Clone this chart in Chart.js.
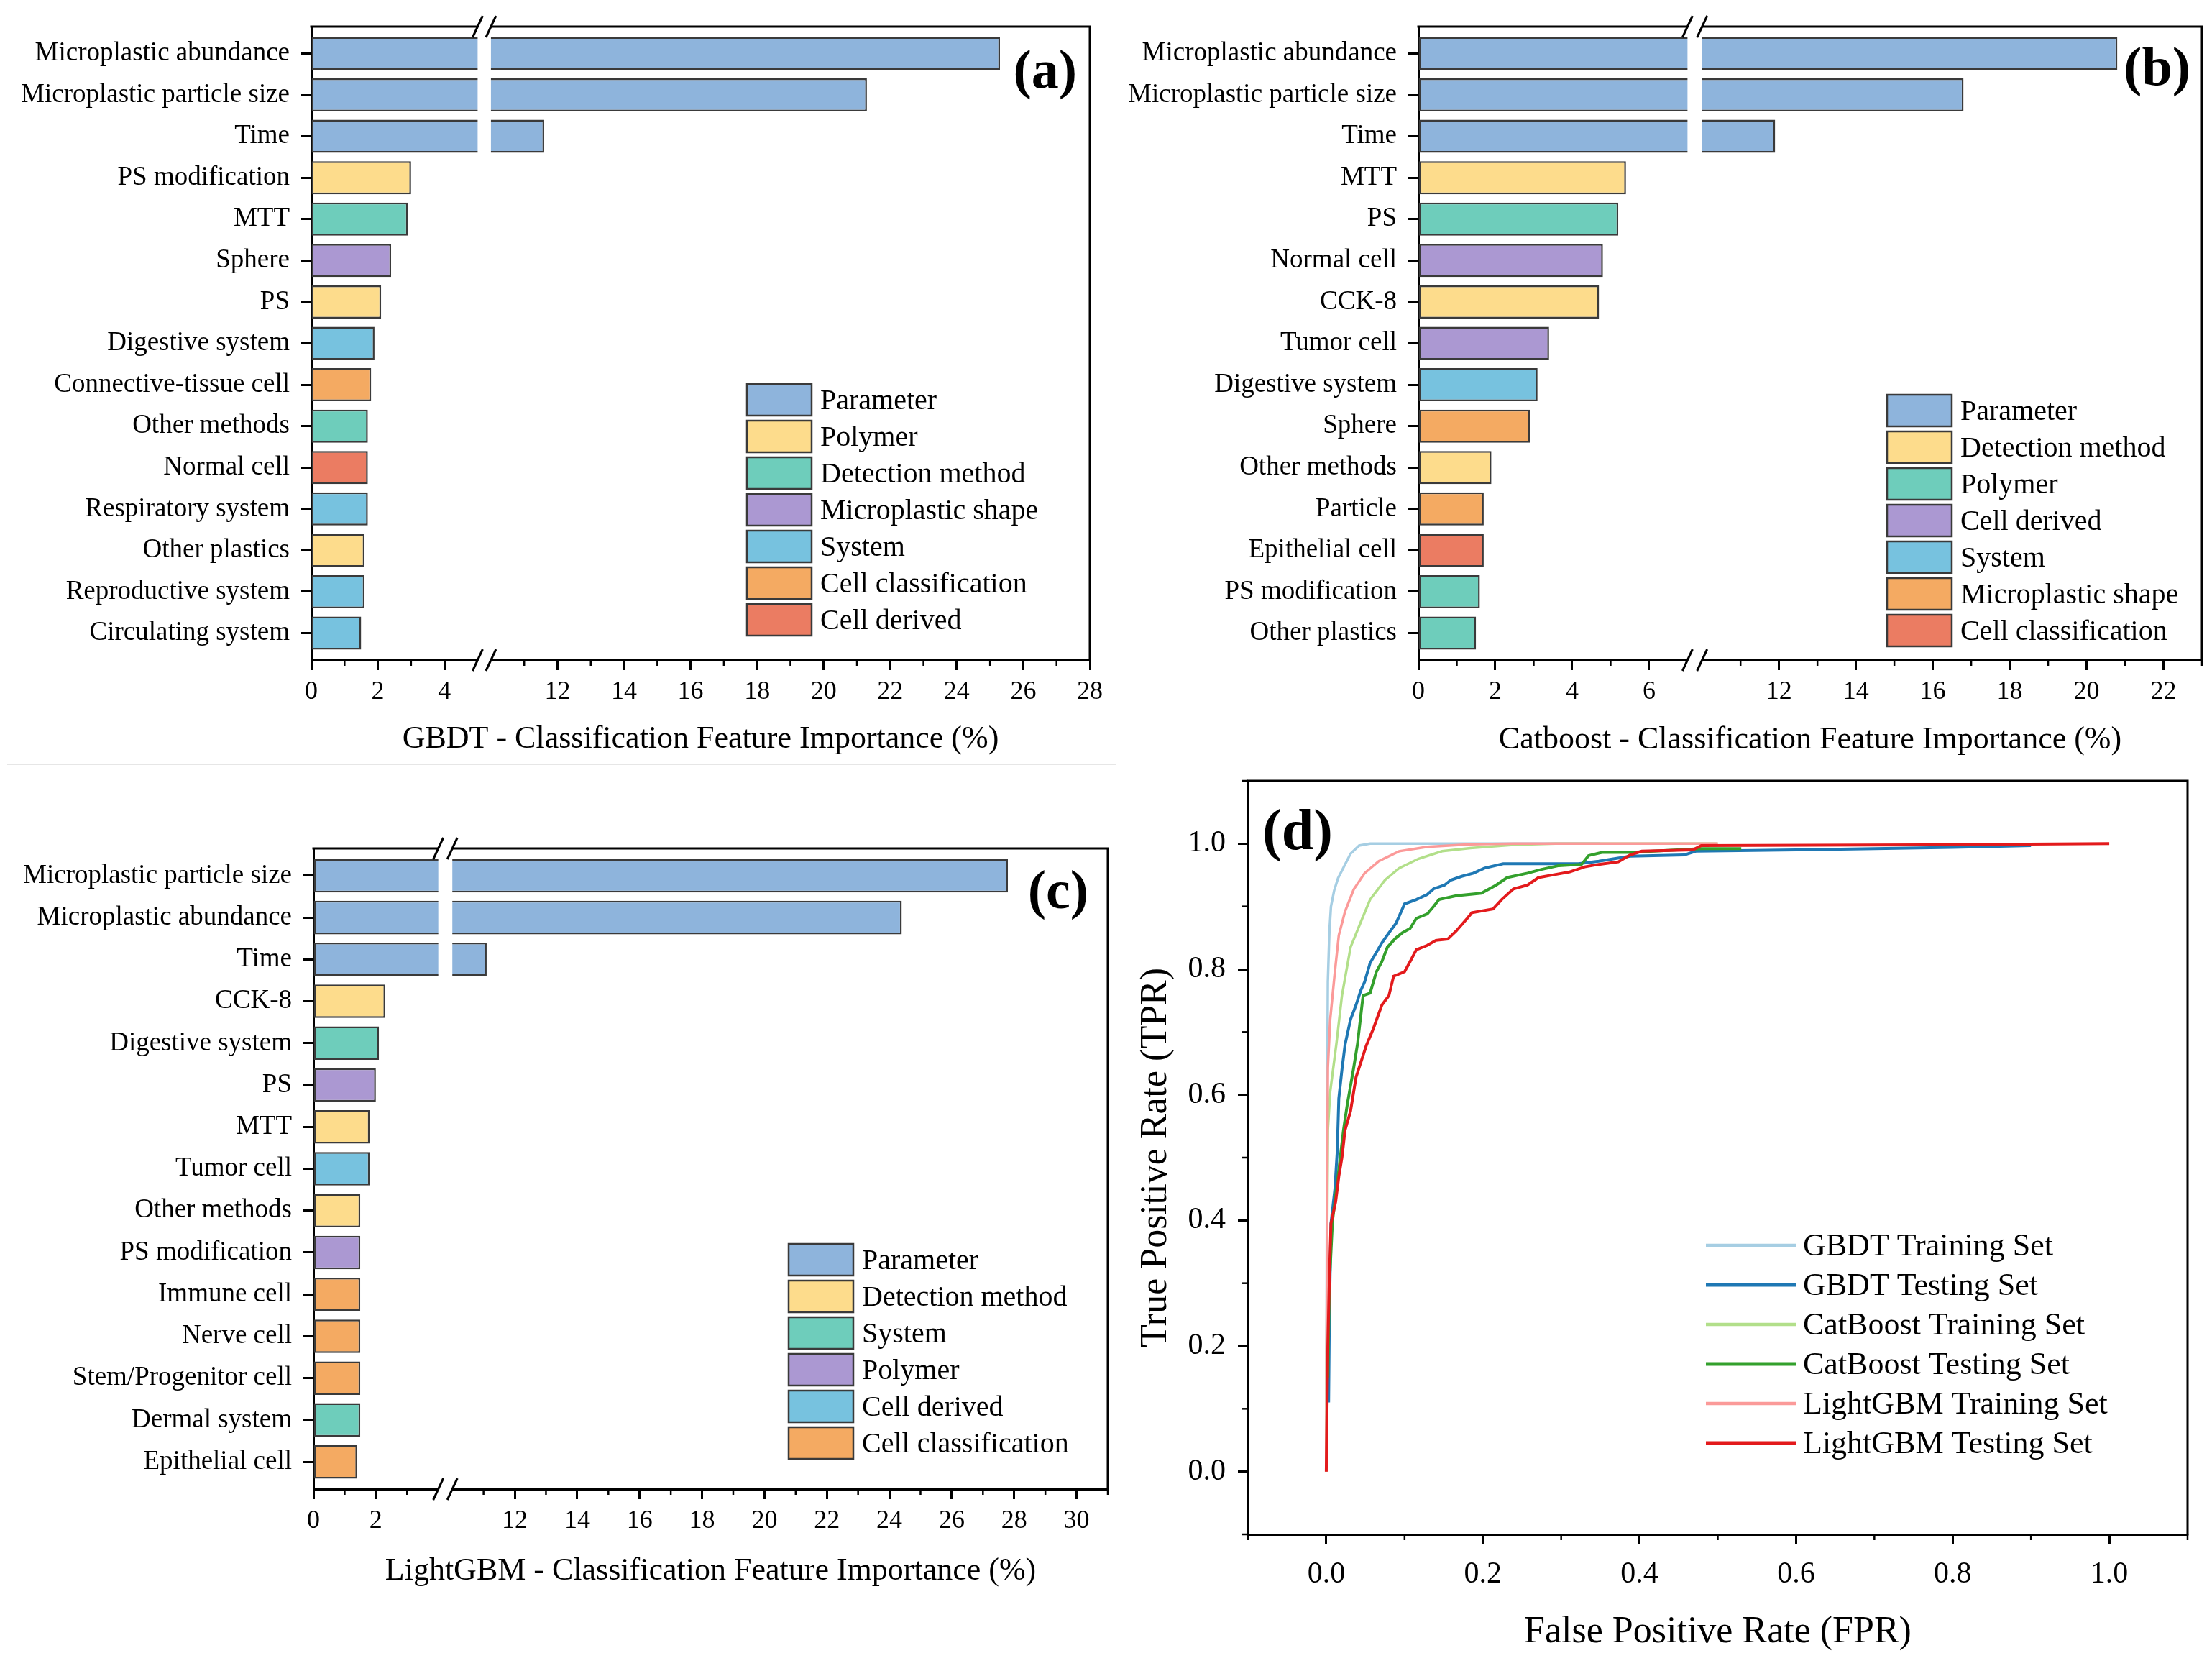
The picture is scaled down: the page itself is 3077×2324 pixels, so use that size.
<!DOCTYPE html>
<html>
<head>
<meta charset="utf-8">
<title>Feature importance and ROC curves</title>
<script src="https://cdn.jsdelivr.net/npm/chart.js@4.4.1/dist/chart.umd.min.js"></script>
<style>
  html, body { margin: 0; padding: 0; background: #fff; }
  #page { position: relative; width: 3077px; height: 2324px; overflow: hidden; background: #fff; }
  #page canvas { position: absolute; }
  #rule { position: absolute; left: 10px; top: 1062px; width: 1543px; height: 2px; background: #e6e6e6; }
</style>
</head>
<body>
<div id="page">
  <div id="rule"></div>
  <canvas id="gbdt" width="1545" height="1070" style="left:0;top:0;width:1545px;height:1070px"></canvas>
  <canvas id="catboost" width="1532" height="1070" style="left:1545px;top:0;width:1532px;height:1070px"></canvas>
  <canvas id="lightgbm" width="1545" height="1254" style="left:0;top:1070px;width:1545px;height:1254px"></canvas>
  <canvas id="roc" width="1532" height="1254" style="left:1545px;top:1070px;width:1532px;height:1254px"></canvas>
</div>
<script>
const FONT = "'Liberation Serif', 'Times New Roman', serif";
Chart.defaults.font.family = FONT;
Chart.defaults.color = '#000';

// fill colours, same order in every legend
const palette = ['#8eb4dc', '#fddc8c', '#6ecdbb', '#ab98d2', '#77c2df', '#f4aa62', '#eb7c62'];

// (a) GBDT
const gbdtFeatures = ['Microplastic abundance', 'Microplastic particle size', 'Time', 'PS modification', 'MTT',
  'Sphere', 'PS', 'Digestive system', 'Connective-tissue cell', 'Other methods', 'Normal cell',
  'Respiratory system', 'Other plastics', 'Reproductive system', 'Circulating system'];
const gbdtImportance = [25.3, 21.3, 11.6, 3.0, 2.9, 2.4, 2.1, 1.9, 1.8, 1.7, 1.7, 1.7, 1.6, 1.6, 1.5];
const gbdtColour = [0, 0, 0, 1, 2, 3, 1, 4, 5, 2, 6, 4, 1, 4, 4];
const gbdtLegend = ['Parameter', 'Polymer', 'Detection method', 'Microplastic shape', 'System',
  'Cell classification', 'Cell derived'];
const gbdtTicks = [0, 2, 4, 12, 14, 16, 18, 20, 22, 24, 26, 28];

// (b) CatBoost
const catFeatures = ['Microplastic abundance', 'Microplastic particle size', 'Time', 'MTT', 'PS', 'Normal cell',
  'CCK-8', 'Tumor cell', 'Digestive system', 'Sphere', 'Other methods', 'Particle', 'Epithelial cell',
  'PS modification', 'Other plastics'];
const catImportance = [20.8, 16.8, 11.9, 5.4, 5.2, 4.8, 4.7, 3.4, 3.1, 2.9, 1.9, 1.7, 1.7, 1.6, 1.5];
const catColour = [0, 0, 0, 1, 2, 3, 1, 3, 4, 5, 1, 5, 6, 2, 2];
const catLegend = ['Parameter', 'Detection method', 'Polymer', 'Cell derived', 'System',
  'Microplastic shape', 'Cell classification'];
const catTicks = [0, 2, 4, 6, 12, 14, 16, 18, 20, 22];

// (c) LightGBM
const lgbFeatures = ['Microplastic particle size', 'Microplastic abundance', 'Time', 'CCK-8', 'Digestive system',
  'PS', 'MTT', 'Tumor cell', 'Other methods', 'PS modification', 'Immune cell', 'Nerve cell',
  'Stem/Progenitor cell', 'Dermal system', 'Epithelial cell'];
const lgbImportance = [27.8, 24.4, 11.1, 2.3, 2.1, 2.0, 1.8, 1.8, 1.5, 1.5, 1.5, 1.5, 1.5, 1.5, 1.4];
const lgbColour = [0, 0, 0, 1, 2, 3, 1, 4, 1, 3, 5, 5, 5, 2, 5];
const lgbLegend = ['Parameter', 'Detection method', 'System', 'Polymer', 'Cell derived', 'Cell classification'];
const lgbTicks = [0, 2, 12, 14, 16, 18, 20, 22, 24, 26, 28, 30];

// (d) ROC curves
const rocTicks = [0, 0.2, 0.4, 0.6, 0.8, 1.0];
const rocMinor = [-0.1, 0.1, 0.3, 0.5, 0.7, 0.9, 1.1];

const gbdtTrainFpr = [0, 0.001, 0.002, 0.004, 0.006, 0.01, 0.015, 0.022, 0.031, 0.042, 0.056, 0.35];
const gbdtTrainTpr = [0, 0.55, 0.78, 0.86, 0.9, 0.925, 0.945, 0.962, 0.984, 0.997, 1.0, 1.0];

const gbdtTestFpr = [0.003, 0.004, 0.006, 0.011, 0.014, 0.016, 0.02, 0.024, 0.031, 0.038,
  0.044, 0.049, 0.056, 0.064, 0.071, 0.08, 0.089, 0.1, 0.115, 0.129,
  0.137, 0.151, 0.159, 0.173, 0.188, 0.202, 0.226, 0.322, 0.348, 0.388,
  0.457, 0.472, 0.6, 0.8, 0.9];
const gbdtTestTpr = [0.11, 0.25, 0.395, 0.45, 0.51, 0.594, 0.64, 0.68, 0.72, 0.743,
  0.766, 0.78, 0.81, 0.827, 0.842, 0.858, 0.873, 0.904, 0.911, 0.919,
  0.928, 0.934, 0.942, 0.948, 0.953, 0.961, 0.968, 0.968, 0.972, 0.98,
  0.982, 0.988, 0.99, 0.994, 0.997];

const catTrainFpr = [0, 0.001, 0.002, 0.005, 0.013, 0.02, 0.031, 0.046, 0.056, 0.075, 0.093, 0.118,
  0.148, 0.184, 0.239, 0.293, 0.5];
const catTrainTpr = [0, 0.35, 0.544, 0.605, 0.682, 0.758, 0.835, 0.881, 0.911, 0.942, 0.961, 0.976,
  0.988, 0.993, 0.998, 1.0, 1.0];

const catTestFpr = [0.002, 0.004, 0.008, 0.015, 0.022, 0.027, 0.035, 0.04, 0.047, 0.056,
  0.064, 0.071, 0.078, 0.089, 0.097, 0.107, 0.115, 0.129, 0.137, 0.144,
  0.166, 0.198, 0.217, 0.231, 0.257, 0.275, 0.297, 0.326, 0.335, 0.352,
  0.388, 0.479, 0.53];
const catTestTpr = [0.15, 0.3, 0.4, 0.47, 0.544, 0.586, 0.643, 0.682, 0.758, 0.762,
  0.796, 0.812, 0.835, 0.85, 0.858, 0.865, 0.881, 0.888, 0.9, 0.911,
  0.917, 0.921, 0.934, 0.946, 0.953, 0.959, 0.965, 0.967, 0.981, 0.986,
  0.986, 0.992, 0.992];

const lgbTrainFpr = [0, 0.001, 0.002, 0.005, 0.011, 0.016, 0.024, 0.035, 0.049, 0.067, 0.093, 0.129,
  0.184, 0.24, 0.5];
const lgbTrainTpr = [0, 0.4, 0.643, 0.72, 0.796, 0.854, 0.892, 0.927, 0.953, 0.972, 0.988, 0.995,
  0.999, 1.0, 1.0];

const lgbTestFpr = [0, 0.002, 0.004, 0.006, 0.012, 0.016, 0.02, 0.024, 0.031, 0.038,
  0.051, 0.06, 0.071, 0.08, 0.086, 0.1, 0.107, 0.115, 0.129, 0.14,
  0.155, 0.166, 0.18, 0.186, 0.213, 0.224, 0.239, 0.257, 0.271, 0.293,
  0.311, 0.33, 0.348, 0.373, 0.388, 0.403, 0.468, 0.479, 0.76, 1.0];
const lgbTestTpr = [0, 0.2, 0.31, 0.395, 0.43, 0.47, 0.5, 0.544, 0.574, 0.628,
  0.678, 0.705, 0.743, 0.758, 0.789, 0.796, 0.812, 0.831, 0.838, 0.846,
  0.848, 0.861, 0.881, 0.89, 0.896, 0.911, 0.928, 0.934, 0.946, 0.951,
  0.955, 0.963, 0.967, 0.971, 0.982, 0.988, 0.99, 0.997, 0.998, 1.0];

// axis with a cut: values above `to` slide left so the cut shows as a small gap
function brokenAxis(from, to, gap) {
  const cut = to - from - gap;
  return v => (v <= from ? v : v - cut);
}

// chart.js adds half a label of room at the ends of vertical axes; the reference has none
function noEndPadding(s) {
  s.paddingTop = 0;
  s.paddingBottom = 0;
}

// frame, minor ticks, axis break, legend and panel letter
const deco = {
  id: 'deco',
  afterDatasetsDraw(chart, args, o) {
    const { ctx, chartArea: a, scales } = chart;
    const xs = scales.x, ys = scales.y;
    ctx.save();
    ctx.strokeStyle = '#000';
    ctx.lineWidth = 3;
    ctx.beginPath();
    ctx.moveTo(a.left - 1.5, a.top);
    ctx.lineTo(a.right, a.top);
    ctx.lineTo(a.right, a.bottom + 1.5);
    ctx.stroke();

    ctx.lineWidth = 2.5;
    (o.minorX || []).forEach(v => {
      const x = xs.getPixelForValue(v);
      ctx.beginPath(); ctx.moveTo(x, a.bottom); ctx.lineTo(x, a.bottom + 8); ctx.stroke();
    });
    (o.minorY || []).forEach(v => {
      const y = ys.getPixelForValue(v);
      ctx.beginPath(); ctx.moveTo(a.left, y); ctx.lineTo(a.left - 8, y); ctx.stroke();
    });

    if (o.gap) {
      const x1 = xs.getPixelForValue(o.gap[0]);
      const x2 = xs.getPixelForValue(o.gap[1]);
      ctx.fillStyle = '#fff';
      ctx.fillRect(x1, a.top - 3, x2 - x1, a.bottom - a.top + 6);
      ctx.lineWidth = 3;
      [a.top, a.bottom].forEach(y => [x1, x2].forEach(x => {
        ctx.beginPath(); ctx.moveTo(x - 7, y + 15); ctx.lineTo(x + 7, y - 15); ctx.stroke();
      }));
    }

    const L = o.legend;
    if (L) {
      ctx.font = L.size + 'px ' + FONT;
      ctx.textAlign = 'left';
      ctx.textBaseline = 'middle';
      L.labels.forEach((txt, i) => {
        const top = L.y + i * L.row;
        if (L.kind === 'box') {
          ctx.fillStyle = palette[i];
          ctx.fillRect(L.x, top, L.w, L.h);
          ctx.strokeStyle = '#3a3a3a';
          ctx.lineWidth = 2.5;
          ctx.strokeRect(L.x, top, L.w, L.h);
          ctx.fillStyle = '#000';
          ctx.fillText(txt, L.x + L.w + 12, top + L.h / 2 + 2);
        } else {
          ctx.strokeStyle = L.colors[i];
          ctx.lineWidth = L.widths[i];
          ctx.beginPath(); ctx.moveTo(L.x, top); ctx.lineTo(L.x + L.w, top); ctx.stroke();
          ctx.fillStyle = '#000';
          ctx.fillText(txt, L.x + L.w + 10, top + 2);
        }
      });
    }

    if (o.letter) {
      ctx.font = 'bold ' + o.letter.size + 'px ' + FONT;
      ctx.fillStyle = '#000';
      ctx.textAlign = o.letter.align;
      ctx.textBaseline = 'middle';
      ctx.fillText(o.letter.text, o.letter.x, o.letter.y);
    }
    ctx.restore();
  }
};

function barPanel(id, p) {
  const fwd = brokenAxis(p.cut[0], p.cut[1], p.gap);
  const minor = [];
  for (let v = 1; v <= p.max; v += 2) {
    if (v >= p.cut[0] && v <= p.cut[1]) continue;
    minor.push(fwd(v));
  }
  const n = p.features.length;
  return new Chart(document.getElementById(id), {
    type: 'bar',
    data: {
      datasets: [{
        data: p.values.map((v, i) => ({ x: fwd(v), y: i })),
        backgroundColor: p.colour.map(c => palette[c]),
        borderColor: '#3a3a3a',
        borderWidth: 2.5,
        borderSkipped: false,
        barPercentage: 0.8,
        categoryPercentage: 1.0
      }]
    },
    options: {
      indexAxis: 'y',
      responsive: false,
      animation: false,
      devicePixelRatio: 1,
      layout: { padding: p.padding },
      plugins: {
        legend: { display: false },
        tooltip: { enabled: false },
        deco: {
          minorX: minor,
          gap: [p.cut[0], p.cut[0] + p.gap],
          legend: { kind: 'box', labels: p.legend, x: p.legendX, y: p.legendY, row: 51, w: 90, h: 44, size: 40 },
          letter: { text: p.letter, x: p.letterX, y: p.letterY, align: 'right', size: 76 }
        }
      },
      scales: {
        x: {
          type: 'linear',
          min: 0,
          max: fwd(p.max),
          afterBuildTicks: s => { s.ticks = p.ticks.map(v => ({ value: fwd(v) })); },
          ticks: {
            callback: (v, i) => String(p.ticks[i]),
            font: { size: 36 }, color: '#000', padding: 9, maxRotation: 0, autoSkip: false
          },
          grid: { drawOnChartArea: false, tickLength: 14, tickWidth: 3, color: '#000' },
          border: { color: '#000', width: 3 },
          title: { display: true, text: p.title, font: { size: 44 }, color: '#000', padding: 0 },
          afterFit: s => { s.height = p.xHeight; }
        },
        y: {
          type: 'linear',
          reverse: true,
          offset: false,
          min: -0.65,
          max: n - 1 + 0.65,
          afterBuildTicks: s => { s.ticks = p.features.map((f, i) => ({ value: i })); },
          ticks: { callback: (v, i) => p.features[i], font: { size: 37 }, color: '#000', padding: 16, autoSkip: false },
          grid: { drawOnChartArea: false, offset: false, tickLength: 14, tickWidth: 3, color: '#000' },
          border: { color: '#000', width: 3 },
          afterFit: s => { s.width = p.yWidth; noEndPadding(s); }
        }
      }
    },
    plugins: [deco]
  });
}

barPanel('gbdt', {
  features: gbdtFeatures, values: gbdtImportance, colour: gbdtColour, legend: gbdtLegend, ticks: gbdtTicks,
  cut: [5, 10], gap: 0.4, max: 28,
  title: 'GBDT - Classification Feature Importance (%)',
  padding: { left: 0, top: 37, right: 29, bottom: 15 }, yWidth: 433, xHeight: 137,
  legendX: 1039, legendY: 534, letter: '(a)', letterX: 1498, letterY: 102
});

barPanel('catboost', {
  features: catFeatures, values: catImportance, colour: catColour, legend: catLegend, ticks: catTicks,
  cut: [7, 10], gap: 0.38, max: 23,
  title: 'Catboost - Classification Feature Importance (%)',
  padding: { left: 0, top: 37, right: 14, bottom: 14 }, yWidth: 428, xHeight: 138,
  legendX: 1080, legendY: 549, letter: '(b)', letterX: 1502, letterY: 98
});

barPanel('lightgbm', {
  features: lgbFeatures, values: lgbImportance, colour: lgbColour, legend: lgbLegend, ticks: lgbTicks,
  cut: [4, 10], gap: 0.45, max: 31,
  title: 'LightGBM - Classification Feature Importance (%)',
  padding: { left: 0, top: 110, right: 4, bottom: 112 }, yWidth: 436, xHeight: 141,
  legendX: 1097, legendY: 660, letter: '(c)', letterX: 1514, letterY: 173
});

// (d) ROC
const rocSeries = [
  { label: 'GBDT Training Set', fpr: gbdtTrainFpr, tpr: gbdtTrainTpr, color: '#a6cee3', width: 3.5 },
  { label: 'GBDT Testing Set', fpr: gbdtTestFpr, tpr: gbdtTestTpr, color: '#1f78b4', width: 4 },
  { label: 'CatBoost Training Set', fpr: catTrainFpr, tpr: catTrainTpr, color: '#b2df8a', width: 3.5 },
  { label: 'CatBoost Testing Set', fpr: catTestFpr, tpr: catTestTpr, color: '#33a02c', width: 4 },
  { label: 'LightGBM Training Set', fpr: lgbTrainFpr, tpr: lgbTrainTpr, color: '#fb9a99', width: 3.5 },
  { label: 'LightGBM Testing Set', fpr: lgbTestFpr, tpr: lgbTestTpr, color: '#e31a1c', width: 4 }
];

function rocAxis(title, side) {
  return {
    type: 'linear',
    min: -0.1,
    max: 1.1,
    afterBuildTicks: s => { s.ticks = rocTicks.map(v => ({ value: v })); },
    ticks: { callback: v => Number(v).toFixed(1), font: { size: 42 }, color: '#000', padding: 17, maxRotation: 0, autoSkip: false },
    grid: { drawOnChartArea: false, tickLength: 14, tickWidth: 3, color: '#000' },
    border: { color: '#000', width: 3 },
    title: { display: true, text: title, font: { size: 52 }, color: '#000', padding: 0 },
    afterFit: side === 'x'
      ? (s => { s.height = 168; s.paddingLeft = 0; s.paddingRight = 0; })
      : (s => { s.width = 159; noEndPadding(s); })
  };
}

new Chart(document.getElementById('roc'), {
  type: 'scatter',
  data: {
    datasets: rocSeries.map((s, i) => ({
      label: s.label,
      data: s.fpr.map((x, k) => ({ x: x, y: s.tpr[k] })),
      showLine: true,
      borderColor: s.color,
      backgroundColor: s.color,
      borderWidth: s.width,
      pointRadius: 0,
      tension: 0,
      order: rocSeries.length - i
    }))
  },
  options: {
    responsive: false,
    animation: false,
    devicePixelRatio: 1,
    layout: { padding: { left: 32, top: 16, right: 34, bottom: 22 } },
    plugins: {
      legend: { display: false },
      tooltip: { enabled: false },
      deco: {
        minorX: rocMinor,
        minorY: rocMinor,
        legend: {
          kind: 'line', labels: rocSeries.map(s => s.label),
          colors: rocSeries.map(s => s.color), widths: rocSeries.map(s => s.width + 1),
          x: 828, y: 662, row: 55, w: 125, size: 44
        },
        letter: { text: '(d)', x: 211, y: 90, align: 'left', size: 80 }
      }
    },
    scales: {
      x: rocAxis('False Positive Rate (FPR)', 'x'),
      y: rocAxis('True Positive Rate (TPR)', 'y')
    }
  },
  plugins: [deco]
});
</script>
</body>
</html>
